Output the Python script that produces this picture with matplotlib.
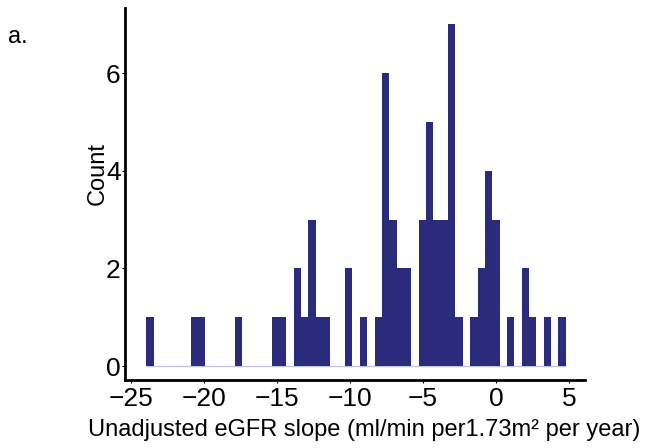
import matplotlib.pyplot as plt, numpy as np

plt.rcParams['font.family'] = ['Liberation Sans', 'DejaVu Sans']

# histogram bins (57 bins from about -24 to 4.8)
bin_lo = -23.97
bin_hi = 4.79
counts = [1, 0, 0, 0, 0, 0, 1, 1, 0, 0,
          0, 0, 1, 0, 0, 0, 0, 1, 1, 0,
          2, 1, 3, 1, 1, 0, 0, 2, 0, 1,
          0, 1, 6, 3, 2, 2, 0, 3, 5, 3,
          3, 7, 1, 0, 1, 2, 4, 3, 0, 1,
          0, 2, 1, 0, 1, 0, 1]
x_ticks = [-25, -20, -15, -10, -5, 0, 5]
y_ticks = [0, 2, 4, 6]

edges = np.linspace(bin_lo, bin_hi, len(counts) + 1)
counts = np.array(counts)

fig = plt.figure(figsize=(6.47, 4.48), dpi=100)
ax = fig.add_axes([0.193, 0.152, 0.711, 0.83])

ax.hlines(0, edges[0], edges[-1], color="#c4c4e2", lw=1, zorder=1)
nz = counts > 0
ax.bar(edges[:-1][nz], counts[nz], width=np.diff(edges)[nz], align="edge",
       color="#2a2c7b", lw=0, zorder=2)

ax.set_xlim(-25.45, 6.1)
ax.set_ylim(-0.28, 7.33)
ax.set_xticks(x_ticks)
ax.set_yticks(y_ticks)
ax.tick_params(labelsize=19, length=2, width=0.8, pad=1)
ax.tick_params(axis="x", pad=3)

for s in ["top", "right"]:
    ax.spines[s].set_visible(False)
ax.spines["left"].set_linewidth(2)
ax.spines["bottom"].set_linewidth(2)

ax.set_ylabel("Count", fontsize=17)
ax.yaxis.set_label_coords(-0.035, 0.555)
ax.set_xlabel("Unadjusted eGFR slope (ml/min per1.73m² per year)", fontsize=17)
ax.xaxis.set_label_coords(0.52, -0.105)

fig.text(0.012, 0.905, "a.", fontsize=17)

fig.savefig("out.png", dpi=100)
